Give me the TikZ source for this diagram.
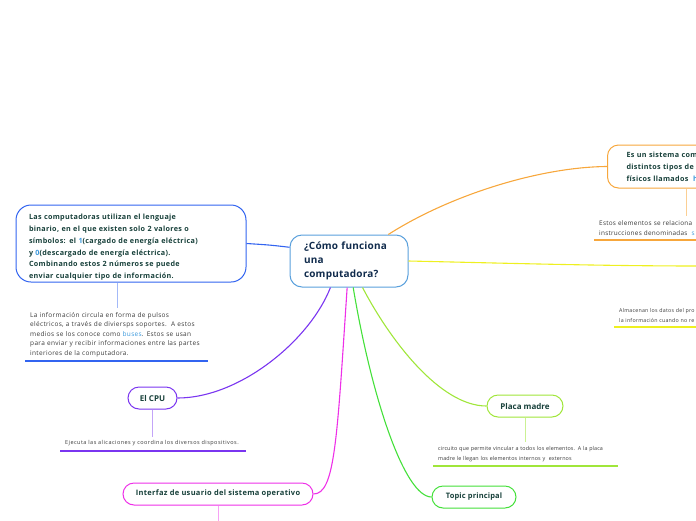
\documentclass[tikz,border=0pt]{standalone}
\usepackage{fontspec}
\setmainfont{Open Sans}
\definecolor{ink}{HTML}{17403A}
\definecolor{navytxt}{HTML}{102B4C}
\definecolor{bodytxt}{HTML}{3A3A3A}
\definecolor{linkblue}{HTML}{3A98DC}
\definecolor{ctrblue}{HTML}{5AA0DC}
\definecolor{royal}{HTML}{3264F0}
\definecolor{orangeln}{HTML}{F7A73C}
\definecolor{yellowln}{HTML}{EEF020}
\definecolor{purpleln}{HTML}{7A35F0}
\definecolor{magentaln}{HTML}{EE30E8}
\definecolor{greenln}{HTML}{44E03A}
\definecolor{limeln}{HTML}{A0E63A}
\usetikzlibrary{calc, positioning}

\begin{document}
\begin{tikzpicture}[x=1pt, y=-1pt,
    topic/.style={draw, fill=white, line width=1pt, rounded corners=11pt,
      inner sep=0pt, text=ink,
      font=\fontsize{7.5}{12}\selectfont\bfseries\addfontfeatures{LetterSpace=4}},
    note/.style={inner xsep=5pt, inner ysep=4pt, align=left, text=bodytxt},
    link/.style={line width=1.1pt},
    stem/.style={line width=0.8pt},
    rule/.style={line width=2pt},
  ]
    \useasboundingbox (0,0) rectangle (696,520);
    \clip (0,0) rectangle (696,520);

    % central topic
    \node[draw=ctrblue, fill=white, line width=1pt, rounded corners=12pt,
      minimum width=116pt, minimum height=52pt, text width=90pt, inner xsep=14pt,
      align=left, text=navytxt,
      font=\fontsize{10}{14}\selectfont\bfseries\addfontfeatures{LetterSpace=2}]
      (ctr) at (349,261) {¿Cómo funciona\\una\\computadora?};

    % binary card
    \node[topic, draw=royal, rounded corners=15pt, minimum width=230pt,
      minimum height=77pt, text width=204pt, inner xsep=13pt, align=left,
      font=\fontsize{7.2}{11.8}\selectfont\bfseries\addfontfeatures{LetterSpace=4.5}]
      (bin) at (131,243.5) {\rule{0pt}{13pt}Las computadoras utilizan el lenguaje\\binario, en el que existen solo 2 valores o\\símbolos: el \textcolor{linkblue}{1}(cargado de energía eléctrica)\\y \textcolor{linkblue}{0}(descargado de energía eléctrica).\\Combinando estos 2 números se puede\\enviar cualquier tipo de información.};
    \node[note, anchor=south west, text width=173pt,
      font=\fontsize{6.5}{9.5}\selectfont\addfontfeatures{LetterSpace=5}] (binnote) at (25,361)
      {La información circula en forma de pulsos\\eléctricos, a través de diviersps soportes.\ \ A estos\\medios se los conoce como \textcolor{linkblue}{buses}. Estos se usan\\para enviar y recibir informaciones entre las partes\\interiores de la computadora.};
    \coordinate (binx) at (117,0);

    % hardware card (cut by the page edge)
    \node[topic, draw=orangeln, anchor=west, minimum width=200pt,
      minimum height=43pt, text width=170pt, inner xsep=19pt, align=left,
      font=\fontsize{7.2}{11.8}\selectfont\bfseries\addfontfeatures{LetterSpace=4.5}]
      (hw) at (607,166.5) {Es un sistema com\\distintos tipos de\\físicos llamados\ \ \textcolor{linkblue}{h}};
    \node[note, anchor=south west, text width=190pt,
      font=\fontsize{6.4}{10}\selectfont\addfontfeatures{LetterSpace=4}] (hwnote) at (594,239.5)
      {Estos elementos se relaciona\\instrucciones denominadas\ \ \textcolor{linkblue}{s}};
    \coordinate (hwx) at (686,0);

    % memory branch (card off the page)
    \coordinate (memend) at (700,266);
    \node[note, anchor=south west, text width=190pt,
      font=\fontsize{5.3}{10}\selectfont\addfontfeatures{LetterSpace=4}] (memnote) at (614,326.5)
      {Almacenan los datos del pro\\la información cuando no re};

    % CPU
    \node[topic, draw=purpleln, minimum width=49pt, minimum height=22pt,
      font=\fontsize{8}{9}\selectfont\bfseries] (cpu) at (152.5,398) {El CPU};
    \node[note, anchor=south west, text width=176pt,
      font=\fontsize{5.5}{9}\selectfont\addfontfeatures{LetterSpace=8.5}] (cpunote) at (60,450.5)
      {Ejecuta las alicaciones y coordina los diversos dispositivos.};
    \coordinate (cpux) at (152.5,0);

    % interface
    \node[topic, draw=magentaln, minimum width=190pt, minimum height=22pt]
      (ui) at (218,494) {Interfaz de usuario del sistema operativo};
    \coordinate (uiend) at (218,522);

    % motherboard
    \node[topic, draw=limeln, minimum width=76pt, minimum height=22pt,
      font=\fontsize{8}{9}\selectfont\bfseries] (placa) at (525,406) {Placa madre};
    \node[note, anchor=south west, text width=175pt,
      font=\fontsize{5.4}{10}\selectfont\addfontfeatures{LetterSpace=2}] (placanote) at (433,466)
      {circuito que permite vincular a todos los elementos. A la placa\\madre le llegan los elementos internos y\ \ externos};
    \coordinate (placax) at (525,0);

    % main topic
    \node[topic, draw=greenln, minimum width=84pt, minimum height=22pt,
      font=\fontsize{7.5}{9}\selectfont\bfseries\addfontfeatures{LetterSpace=2}]
      (main) at (474,497) {Topic principal};

    % connectors
    \draw[link, royal] (ctr.167) .. controls (270,245) .. (bin.east);
    \draw[link, orangeln] (ctr.34) .. controls (450,195) and (540,167) .. (hw.west);
    \draw[link, yellowln] (ctr.east) .. controls (500,263) and (600,266) .. (memend);
    \draw[link, purpleln] (ctr.-125) .. controls (310,340) and (240,398) .. (cpu.east);
    \draw[link, magentaln] (ctr.-94) .. controls (337,440) and (335,494) .. (ui.east);
    \draw[link, greenln] (ctr.-81) .. controls (372,400) and (405,497) .. (main.west);
    \draw[link, limeln] (ctr.-63) .. controls (390,340) and (440,406) .. (placa.west);

    % stems to notes
    \draw[stem, royal!45] (bin.south -| binx) -- (binnote.north -| binx);
    \draw[stem, orangeln!55] (hw.south -| hwx) -- (hwnote.north -| hwx);
    \draw[stem, purpleln!45] (cpu.south) -- (cpunote.north -| cpux);
    \draw[stem, magentaln!45] (ui.south) -- (uiend);
    \draw[stem, limeln!55] (placa.south) -- (placanote.north -| placax);

    % underlines
    \draw[rule, royal] (binnote.south west) -- (binnote.south east);
    \draw[rule, orangeln] (hwnote.south west) -- (hwnote.south east);
    \draw[rule, yellowln] (memnote.south west) -- (memnote.south east);
    \draw[rule, purpleln] (cpunote.south west) -- (cpunote.south east);
    \draw[rule, limeln] (placanote.south west) -- (placanote.south east);
\end{tikzpicture}
\end{document}
